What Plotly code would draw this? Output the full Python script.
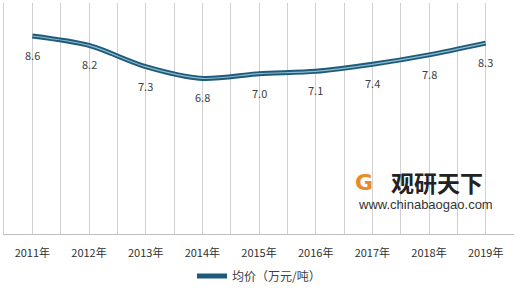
import plotly.graph_objects as go

years = ["2011年", "2012年", "2013年", "2014年", "2015年", "2016年", "2017年", "2018年", "2019年"]
prices = [8.6, 8.2, 7.3, 6.8, 7.0, 7.1, 7.4, 7.8, 8.3]
series_name = "均价（万元/吨）"

xs = list(range(len(years)))
font_fam = "Noto Sans CJK SC, Noto Sans, sans-serif"

fig = go.Figure()
fig.add_trace(go.Scatter(x=xs, y=prices, mode="lines", name=series_name,
                         line=dict(color="#1E5B7A", width=5, shape="spline", smoothing=0.8),
                         showlegend=True))
fig.add_trace(go.Scatter(x=xs, y=prices, mode="lines", name=series_name,
                         line=dict(color="#8FBBD2", width=1.2, shape="spline", smoothing=0.8),
                         showlegend=False, hoverinfo="skip"))

for x, v in zip(xs, prices):
    fig.add_annotation(x=x, y=v, text=f"{v:.1f}", showarrow=False, yshift=-19,
                       font=dict(size=11, color="#404040", family=font_fam))

# watermark
fig.add_annotation(xref="paper", yref="paper", x=(437 - 4) / 510, xanchor="center",
                   y=(239 - 186) / 236, yanchor="middle", text="<b>观研天下</b>",
                   showarrow=False, font=dict(size=23, color="#222222", family=font_fam))
fig.add_annotation(xref="paper", yref="paper", x=(425 - 4) / 510, xanchor="center",
                   y=(239 - 209) / 236, yanchor="middle", text="www.chinabaogao.com",
                   showarrow=False, font=dict(size=13, color="#333333", family="Liberation Sans, Arial, sans-serif"))
# simple logo swoosh
fig.add_annotation(xref="paper", yref="paper", x=(364 - 4) / 510, xanchor="center",
                   y=(239 - 186) / 236, yanchor="middle", text="<b>G</b>",
                   showarrow=False, font=dict(size=22, color="#E98A2B", family="DejaVu Sans"))

fig.update_layout(
    width=520, height=294,
    margin=dict(l=4, r=6, t=3, b=55),
    paper_bgcolor="white", plot_bgcolor="white",
    font=dict(family=font_fam, color="#404040"),
    legend=dict(orientation="h", x=0.5, xanchor="center", y=-(282 - 239) / 236, yanchor="middle",
                font=dict(size=12, color="#404040"), itemwidth=30),
)
fig.update_xaxes(range=[-0.5, 8.5], tickvals=xs, ticktext=years, showgrid=False,
                 tickfont=dict(size=11, color="#303030"), ticklabelstandoff=9,
                 showline=True, linecolor="#BFBFBF", linewidth=1, ticks="", zeroline=False,
                 minor=dict(tick0=-0.5, dtick=0.5, showgrid=True, gridcolor="#D0D0D0", gridwidth=1))
fig.update_yaxes(range=[0.2, 10.0], showgrid=False, showticklabels=False, zeroline=False,
                 showline=True, linecolor="#D0D0D0", mirror=False)

fig.write_html("out.html")
